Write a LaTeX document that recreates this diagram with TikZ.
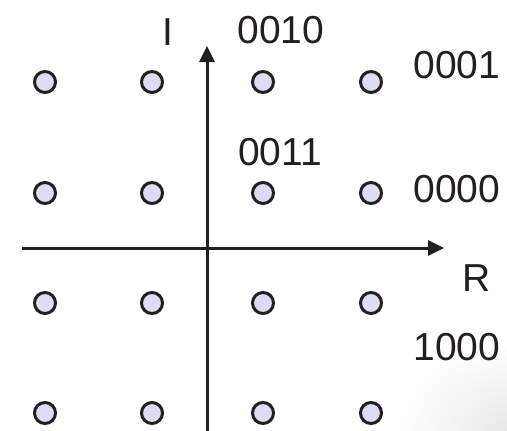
\documentclass[tikz,border=0pt]{standalone}
\usepackage{fontspec}
\setmainfont{Liberation Sans}
\usetikzlibrary{arrows.meta}
\definecolor{dotfill}{HTML}{DCDCF4}
\definecolor{ink}{HTML}{231F20}
\begin{document}
\begin{tikzpicture}[x=1pt,y=-1pt,
  pt/.style={circle,draw=ink,line width=3pt,fill=dotfill,minimum size=21pt,inner sep=0pt},
  lbl/.style={font=\fontsize{39}{46}\selectfont,text=ink,inner sep=0pt},
  axis/.style={draw=ink,line width=3pt,-{Triangle[length=16pt,width=15pt]}}]
\useasboundingbox (0,0) rectangle (507,431);
\fill[white] (0,0) rectangle (507,431);
\shade[inner color=black!9,outer color=white] (507,431) ellipse (110pt and 90pt);
% axes
\coordinate (xs) at (22,248);
\coordinate (xe) at (444,248);
\coordinate (ys) at (207,431);
\coordinate (ye) at (207,46);
\draw[axis] (xs) -- (xe);
\draw[axis] (ys) -- (ye);
% points
\foreach \i/\x in {1/45,2/152,3/263,4/371}{
  \foreach \j/\y in {1/82,2/193,3/303,4/413}{
    \node[pt] (p\i\j) at (\x,\y) {};
  }
}
% labels
\node[lbl] (lI) at (168,32) {I};
\node[lbl] (l0010) at (281,30) {0010};
\node[lbl] (l0001) at (457,65) {0001};
\node[lbl] (l0011) at (280,152) {0011};
\node[lbl] (l0000) at (457,189) {0000};
\node[lbl] (lR) at (477,278) {R};
\node[lbl] (l1000) at (457,347) {1000};
\end{tikzpicture}
\end{document}
